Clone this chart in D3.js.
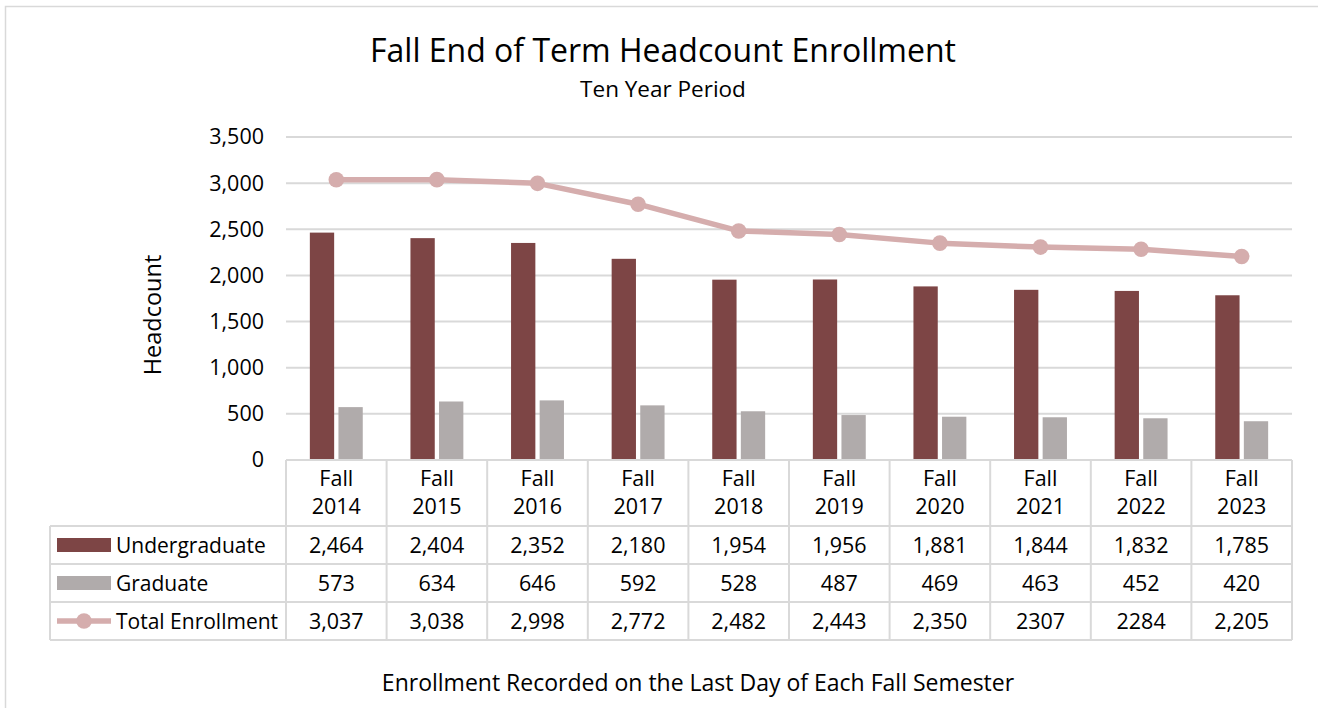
<!DOCTYPE html>
<html><head><meta charset="utf-8">
<script src="https://cdn.jsdelivr.net/npm/d3@7"></script>
<style>
html,body{margin:0;padding:0;background:#fff;}
svg{display:block;font-family:"Open Sans",sans-serif;}
</style></head>
<body><svg id="chart" width="1318" height="708"></svg>
<script>
const categories = ["Fall 2014","Fall 2015","Fall 2016","Fall 2017","Fall 2018","Fall 2019","Fall 2020","Fall 2021","Fall 2022","Fall 2023"];
const undergraduate = [2464,2404,2352,2180,1954,1956,1881,1844,1832,1785];
const graduate = [573,634,646,592,528,487,469,463,452,420];
const totalEnrollment = [3037,3038,2998,2772,2482,2443,2350,2307,2284,2205];
const totalLabels = ["3,037","3,038","2,998","2,772","2,482","2,443","2,350","2307","2284","2,205"];
const yTicks = [0,500,1000,1500,2000,2500,3000,3500];
const seriesNames = ["Undergraduate","Graduate","Total Enrollment"];
const colors = {u:"#7d4545", g:"#b0abab", t:"#d5adad"};
const gridColor = "#d9d9d9";

const svg = d3.select("#chart");
const L=286, R=1292, T=137, B=460;
const fmt = d3.format(",");

// outer border
svg.append("rect").attr("x",5.5).attr("y",6.5).attr("width",1330).attr("height",720)
  .attr("fill","none").attr("stroke",gridColor).attr("stroke-width",1.5);

// titles
svg.append("text").attr("x",663).attr("y",62).attr("text-anchor","middle")
  .attr("font-size",32).attr("fill","#000").text("Fall End of Term Headcount Enrollment");
svg.append("text").attr("x",663).attr("y",97).attr("text-anchor","middle")
  .attr("font-size",22.5).attr("fill","#000").text("Ten Year Period");

const x = d3.scaleBand().domain(categories).range([L,R]).padding(0);
const xi = d3.scaleBand().domain(["u","g"]).range([0,x.bandwidth()]).paddingInner(0.15).paddingOuter(0.834);
const y = d3.scaleLinear().domain([0,3500]).range([B,T]);

// gridlines
svg.append("g").selectAll("line").data(yTicks.filter(d=>d>0)).join("line")
  .attr("x1",L).attr("x2",R).attr("y1",d=>y(d)).attr("y2",d=>y(d))
  .attr("stroke",gridColor).attr("stroke-width",2);

// y axis labels
const yAxis = d3.axisLeft(y).tickValues(yTicks).tickFormat(fmt).tickSize(0).tickPadding(0);
const ya = svg.append("g").attr("transform",`translate(264,0)`).call(yAxis);
ya.select(".domain").remove();
ya.selectAll("text").attr("font-size",21.5).attr("fill","#000").attr("font-family","Open Sans");

// axis title
svg.append("text").attr("transform","translate(161,315) rotate(-90)").attr("text-anchor","middle")
  .attr("font-size",23.5).attr("fill","#000").text("Headcount");

// bars
const gBars = svg.append("g");
gBars.selectAll("rect.u").data(undergraduate).join("rect").attr("class","u")
  .attr("x",(d,i)=>x(categories[i])+xi("u")).attr("width",xi.bandwidth())
  .attr("y",d=>y(d)).attr("height",d=>B-y(d)).attr("fill",colors.u);
gBars.selectAll("rect.g").data(graduate).join("rect").attr("class","g")
  .attr("x",(d,i)=>x(categories[i])+xi("g")).attr("width",xi.bandwidth())
  .attr("y",d=>y(d)).attr("height",d=>B-y(d)).attr("fill",colors.g);

// line
const line = d3.line().x((d,i)=>x(categories[i])+x.bandwidth()/2).y(d=>y(d));
svg.append("path").datum(totalEnrollment).attr("d",line).attr("fill","none")
  .attr("stroke",colors.t).attr("stroke-width",5.5).attr("stroke-linejoin","round");
svg.append("g").selectAll("circle").data(totalEnrollment).join("circle")
  .attr("cx",(d,i)=>x(categories[i])+x.bandwidth()/2).attr("cy",d=>y(d)).attr("r",7.8)
  .attr("fill",colors.t);

// data table
const rowY = [460,526,564,602,640];
const TL = 50;
const tg = svg.append("g").attr("stroke",gridColor).attr("stroke-width",2);
tg.append("line").attr("x1",L).attr("x2",R).attr("y1",rowY[0]).attr("y2",rowY[0]);
rowY.slice(1).forEach(yy=>tg.append("line").attr("x1",TL).attr("x2",R).attr("y1",yy).attr("y2",yy));
const xEdges = categories.map(c=>x(c)).concat([R]);
xEdges.forEach(xx=>tg.append("line").attr("x1",xx).attr("x2",xx).attr("y1",rowY[0]).attr("y2",rowY[4]));
tg.append("line").attr("x1",TL).attr("x2",TL).attr("y1",rowY[1]).attr("y2",rowY[4]);

// header labels and values
const hdr = svg.append("g").attr("font-size",21.5).attr("fill","#000").attr("text-anchor","middle");
categories.forEach(c=>{
  const parts=c.split(" ");
  const cx=x(c)+x.bandwidth()/2;
  hdr.append("text").attr("x",cx).attr("y",486).text(parts[0]);
  hdr.append("text").attr("x",cx).attr("y",514).text(parts[1]);
});
const rows=[undergraduate.map(fmt), graduate.map(String), totalLabels];
rows.forEach((r,ri)=>{
  const cy=(rowY[ri+1]+rowY[ri+2])/2+7.5;
  r.forEach((v,i)=>hdr.append("text").attr("x",x(categories[i])+x.bandwidth()/2).attr("y",cy).text(v));
});

// legend
const lg = svg.append("g");
[0,1,2].forEach(ri=>{
  const cy=(rowY[ri+1]+rowY[ri+2])/2;
  if(ri<2){
    lg.append("rect").attr("x",57).attr("y",cy-7).attr("width",54).attr("height",14).attr("fill",ri==0?colors.u:colors.g);
  } else {
    lg.append("line").attr("x1",57).attr("x2",111).attr("y1",cy).attr("y2",cy).attr("stroke",colors.t).attr("stroke-width",5.5);
    lg.append("circle").attr("cx",84).attr("cy",cy).attr("r",7.8).attr("fill",colors.t);
  }
  lg.append("text").attr("x",116).attr("y",cy+7.5).attr("font-size",21).attr("fill","#000").text(seriesNames[ri]);
});

// bottom title
svg.append("text").attr("x",698).attr("y",691).attr("text-anchor","middle")
  .attr("font-size",23).attr("fill","#000").text("Enrollment Recorded on the Last Day of Each Fall Semester");
</script></body></html>
